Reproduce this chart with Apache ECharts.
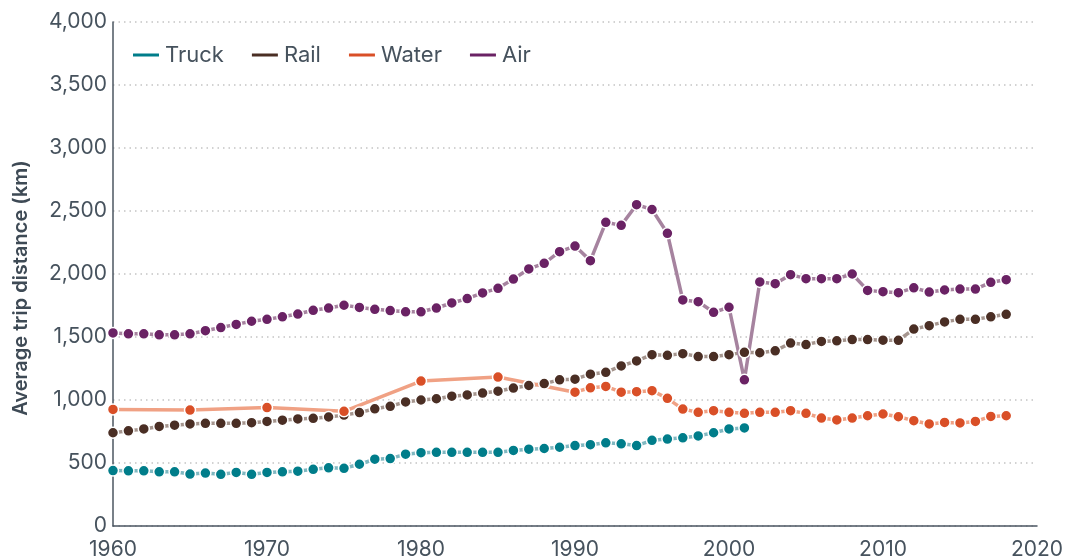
<!DOCTYPE html>
<html>
<head>
<meta charset="utf-8">
<script src="https://cdn.jsdelivr.net/npm/echarts@6/dist/echarts.min.js"></script>
<style>
  html, body { margin: 0; padding: 0; background: #fff; }
  #chart { width: 1068px; height: 558px; }
</style>
</head>
<body>
<div id="chart"></div>
<script>
// 数据
const truckYears = [1960, 1961, 1962, 1963, 1964, 1965, 1966, 1967, 1968, 1969,
  1970, 1971, 1972, 1973, 1974, 1975, 1976, 1977, 1978, 1979,
  1980, 1981, 1982, 1983, 1984, 1985, 1986, 1987, 1988, 1989,
  1990, 1991, 1992, 1993, 1994, 1995, 1996, 1997, 1998, 1999, 2000, 2001]
const truckValues = [440, 438, 438, 430, 430, 412, 420, 410, 425, 410,
  425, 430, 435, 450, 462, 458, 490, 530, 535, 570,
  582, 585, 585, 585, 585, 585, 600, 610, 615, 625,
  638, 645, 660, 652, 638, 680, 690, 700, 715, 740, 770, 778]

const railYears = []
for (let y = 1960; y <= 2018; y++) railYears.push(y)
const railValues = [740, 755, 770, 790, 800, 810, 815, 815, 815, 820,
  830, 840, 850, 855, 865, 880, 900, 930, 950, 985,
  1000, 1010, 1030, 1040, 1055, 1070, 1095, 1115, 1130, 1160,
  1165, 1205, 1220, 1270, 1310, 1360, 1355, 1368, 1345, 1345,
  1360, 1378, 1375, 1390, 1452, 1440, 1465, 1470, 1480, 1480,
  1475, 1474, 1563, 1590, 1620, 1640, 1640, 1660, 1680]

const waterYears = [1960, 1965, 1970, 1975, 1980, 1985, 1990,
  1991, 1992, 1993, 1994, 1995, 1996, 1997, 1998, 1999, 2000,
  2001, 2002, 2003, 2004, 2005, 2006, 2007, 2008, 2009, 2010,
  2011, 2012, 2013, 2014, 2015, 2016, 2017, 2018]
const waterValues = [925, 920, 940, 910, 1150, 1182, 1062,
  1097, 1108, 1062, 1066, 1074, 1013, 928, 902, 915, 902,
  894, 902, 902, 915, 894, 857, 842, 857, 875, 889,
  867, 836, 810, 822, 818, 830, 870, 875]

const airYears = railYears
const airValues = [1532, 1525, 1525, 1517, 1517, 1525, 1550, 1575, 1600, 1625,
  1640, 1660, 1682, 1712, 1730, 1752, 1735, 1720, 1710, 1700,
  1700, 1730, 1770, 1805, 1850, 1886, 1960, 2040, 2085, 2177,
  2222, 2106, 2410, 2386, 2550, 2512, 2323, 1794, 1780, 1696,
  1736, 1160, 1937, 1923, 1995, 1963, 1963, 1963, 2000, 1870,
  1860, 1852, 1890, 1857, 1873, 1880, 1880, 1934, 1955]

const seriesNames = ['Truck', 'Rail', 'Water', 'Air']
const darkColors = ['#007d8a', '#4a2e24', '#d94f27', '#6a2264']
const lightColors = ['#80b8c1', '#a5958e', '#f0a184', '#a6839f']

const xTicks = [1960, 1970, 1980, 1990, 2000, 2010, 2020]

const textColor = '#46525d'
const font = 'Inter, "Open Sans", sans-serif'

function pairs(xs, ys) {
  return xs.map((x, i) => [x, ys[i]])
}

const seriesData = [
  pairs(truckYears, truckValues),
  pairs(railYears, railValues),
  pairs(waterYears, waterValues),
  pairs(airYears, airValues),
]

const chart = echarts.init(document.getElementById('chart'), null, { renderer: 'canvas' })

chart.setOption({
  animation: false,
  textStyle: { fontFamily: font },
  grid: { left: 113, right: 31, top: 22, bottom: 32, outerBoundsMode: 'none' },
  legend: {
    left: 126,
    top: 39,
    itemWidth: 28,
    itemHeight: 5,
    itemGap: 26,
    icon: 'roundRect',
    textStyle: { fontSize: 22, color: textColor, fontFamily: font },
    data: seriesNames.map((n, i) => ({ name: n, itemStyle: { color: darkColors[i] } })),
  },
  xAxis: {
    type: 'value',
    min: xTicks[0],
    max: xTicks[xTicks.length - 1],
    interval: 10,
    axisLine: { show: true, lineStyle: { color: '#4b5661', width: 1.5 } },
    axisTick: { show: false },
    splitLine: { show: false },
    axisLabel: { color: textColor, fontSize: 21, margin: 13, formatter: v => String(v) },
  },
  yAxis: {
    type: 'value',
    min: 0,
    max: 4000,
    interval: 500,
    name: 'Average trip distance (km)',
    nameLocation: 'middle',
    nameGap: 82,
    nameTextStyle: { color: '#3e4a55', fontSize: 20, fontWeight: 600, padding: [0, 28, 0, 0] },
    axisLine: { show: true, lineStyle: { color: '#4b5661', width: 1.5 } },
    axisTick: { show: false },
    axisLabel: {
      color: textColor, fontSize: 21, margin: 6,
      formatter: v => v.toLocaleString('en-US'),
    },
    splitLine: { show: true, lineStyle: { color: '#c4c4c4', width: 1.5, type: [1.5, 4] } },
  },
  series: seriesNames.map((n, i) => ({
    name: n,
    type: 'line',
    data: seriesData[i],
    symbol: 'circle',
    symbolSize: 11,
    showAllSymbol: true,
    lineStyle: { color: lightColors[i], width: 3.5 },
    itemStyle: { color: darkColors[i], borderColor: '#fff', borderWidth: 1.5 },
    emphasis: { disabled: true },
  })),
})
</script>
</body>
</html>
